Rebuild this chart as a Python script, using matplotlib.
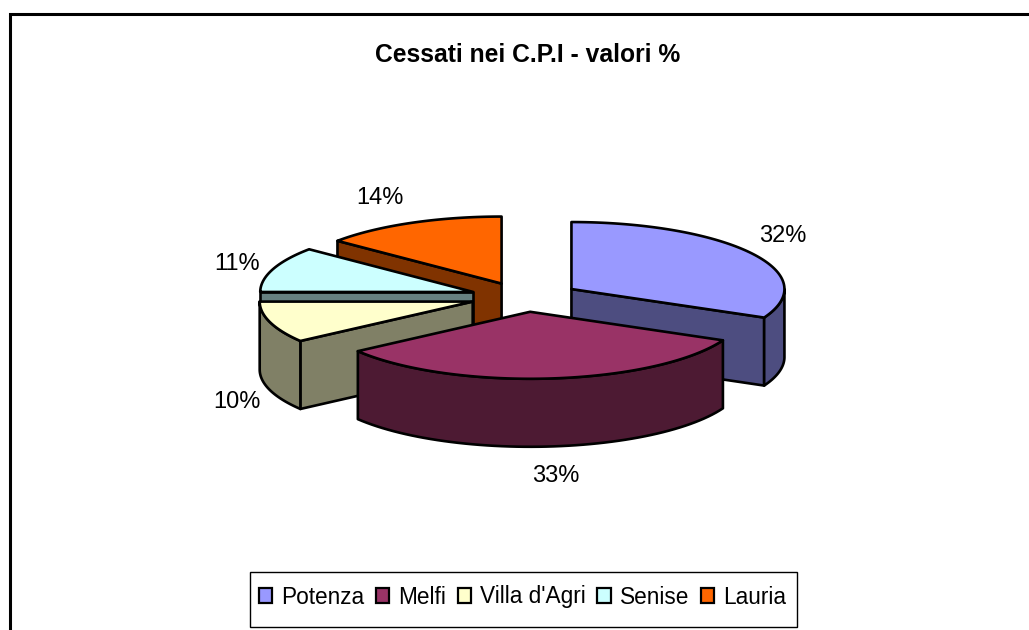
import numpy as np
import matplotlib
matplotlib.use('Agg')
import matplotlib.pyplot as plt
from matplotlib.patches import Polygon, Patch, Rectangle

plt.rcParams['font.family'] = ['Liberation Sans', 'DejaVu Sans']

names = ['Potenza', 'Melfi', "Villa d'Agri", 'Senise', 'Lauria']
values = [32, 33, 10, 11, 14]
top_cols = ['#9999FF', '#993366', '#FFFFCC', '#CCFFFF', '#FF6600']
side_cols = ['#4D4D80', '#4D1A33', '#808066', '#668080', '#803300']
title = 'Cessati nei C.P.I - valori %'

# pie geometry in pixels
cx, cy = 525, 297
rx, ry = 213, 67
depth = 68
explode = 55
explode_squash = 0.27
lw = 1.9

# slices are painted back to front
order = [4, 3, 2, 0, 1]
label_xy = [(783, 236), (556, 476), (237, 402), (237, 264), (380, 198)]


def rim_point(ax0, ay0, a):
    return ax0 + rx * np.sin(a), ay0 - ry * np.cos(a)


fig = plt.figure(figsize=(10.29, 6.30), dpi=100)
ax = fig.add_axes([0, 0, 1, 1])
ax.set_xlim(0, 1029)
ax.set_ylim(630, 0)
ax.axis('off')

# chart frame, runs off the right and bottom of the picture
ax.plot([9.5, 9.5, 1029], [630, 13.5, 13.5], color='black', lw=2.2, solid_joinstyle='miter')

edges = np.cumsum([0] + values) / sum(values) * 2 * np.pi

for i in order:
    a0, a1 = edges[i], edges[i + 1]
    mid = (a0 + a1) / 2
    px = cx + explode * np.sin(mid)
    py = cy - explode * np.cos(mid) * explode_squash
    kw = dict(ec='black', lw=lw, joinstyle='round')

    # cut faces, only the ones turned to the viewer
    for a, vis in [(a0, np.sin(a0) < -1e-6), (a1, np.sin(a1) > 1e-6)]:
        if vis:
            ex, ey = rim_point(px, py, a)
            ax.add_patch(Polygon([(px, py), (ex, ey), (ex, ey + depth), (px, py + depth)],
                                 fc=side_cols[i], **kw))

    # outer wall, front half of the ellipse
    lo, hi = max(a0, np.pi / 2), min(a1, 3 * np.pi / 2)
    if hi > lo:
        t = np.linspace(lo, hi, 60)
        xs, ys = rim_point(px, py, t)
        pts = list(zip(xs, ys)) + list(zip(xs[::-1], ys[::-1] + depth))
        ax.add_patch(Polygon(pts, fc=side_cols[i], **kw))

    # top
    t = np.linspace(a0, a1, 120)
    xs, ys = rim_point(px, py, t)
    ax.add_patch(Polygon([(px, py)] + list(zip(xs, ys)), fc=top_cols[i], **kw))

for v, (x, y) in zip(values, label_xy):
    ax.text(x, y, '%d%%' % v, ha='center', va='center', fontsize=17, color='black')

ax.text(528, 55, title, ha='center', va='center', fontsize=17.7, fontweight='bold')

# legend box drawn by hand, taller than the legend's own padding allows
ax.add_patch(Rectangle((251, 573), 547, 55, fc='#808080', ec='none', zorder=4))
ax.add_patch(Rectangle((250, 572), 547, 55, fc='white', ec='black', lw=1.0, zorder=4))

handles = [Patch(fc=c, ec='black', lw=1.6) for c in top_cols]
leg = ax.legend(handles, names, ncol=5, loc='center', bbox_to_anchor=(522.5 / 1029, 1 - 597 / 630),
                fontsize=16.3, frameon=False,
                handlelength=0.6, handleheight=0.6, handletextpad=0.4, columnspacing=0.5,
                borderpad=0.55, borderaxespad=0)
leg.set_zorder(5)

fig.savefig('out.png', dpi=100)
